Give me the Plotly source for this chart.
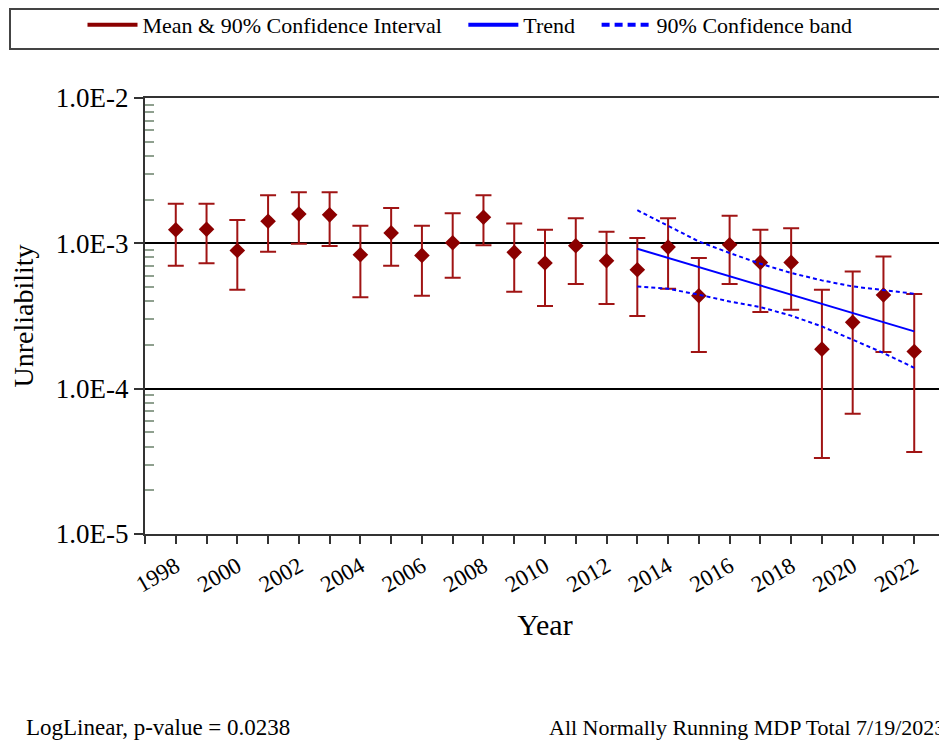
import plotly.graph_objects as go

years = list(range(1998, 2023))
mean = [1.24e-3, 1.25e-3, 8.93e-4, 1.42e-3, 1.59e-3, 1.57e-3, 8.35e-4, 1.18e-3, 8.26e-4,
        1.01e-3, 1.51e-3, 8.67e-4, 7.32e-4, 9.62e-4, 7.59e-4, 6.58e-4, 9.42e-4, 4.36e-4,
        9.78e-4, 7.39e-4, 7.39e-4, 1.87e-4, 2.86e-4, 4.41e-4, 1.80e-4]
upper = [1.87e-3, 1.87e-3, 1.45e-3, 2.14e-3, 2.25e-3, 2.25e-3, 1.32e-3, 1.75e-3, 1.32e-3,
         1.61e-3, 2.14e-3, 1.37e-3, 1.24e-3, 1.49e-3, 1.20e-3, 1.09e-3, 1.49e-3, 7.92e-4,
         1.55e-3, 1.24e-3, 1.27e-3, 4.80e-4, 6.41e-4, 8.13e-4, 4.48e-4]
lower = [7.00e-4, 7.28e-4, 4.80e-4, 8.75e-4, 9.93e-4, 9.60e-4, 4.25e-4, 7.00e-4, 4.36e-4,
         5.80e-4, 9.70e-4, 4.65e-4, 3.70e-4, 5.25e-4, 3.82e-4, 3.16e-4, 4.87e-4, 1.79e-4,
         5.25e-4, 3.37e-4, 3.49e-4, 3.33e-5, 6.72e-5, 1.79e-4, 3.66e-5]

trend_years = [2013, 2022]
trend = [9.18e-4, 2.48e-4]

band_years = list(range(2013, 2023))
band_upper = [1.69e-3, 1.32e-3, 1.03e-3, 8.58e-4, 7.24e-4, 6.25e-4, 5.56e-4, 5.05e-4, 4.74e-4, 4.50e-4]
band_lower = [5.05e-4, 4.87e-4, 4.43e-4, 3.98e-4, 3.64e-4, 3.18e-4, 2.68e-4, 2.17e-4, 1.76e-4, 1.39e-4]

y_tickvals = [1e-5, 1e-4, 1e-3, 1e-2]
y_ticktext = ["1.0E-5", "1.0E-4", "1.0E-3", "1.0E-2"]
y_minor = [k * 10.0 ** e for e in (-5, -4, -3) for k in range(2, 10)]
x_tickvals = list(range(1997, 2024))
x_ticktext = [str(y) if (y % 2 == 0 and 1998 <= y <= 2022) else "" for y in x_tickvals]

FONT = "Liberation Serif, Times New Roman, serif"
RED = "#8b0000"
ERR = "#a01414"
BLUE = "#0000ff"
NB = "\u00a0"

fig = go.Figure()

err_plus = [u - m for u, m in zip(upper, mean)]
err_minus = [m - l for m, l in zip(mean, lower)]

fig.add_trace(go.Scatter(
    x=years, y=mean, mode="markers", showlegend=False,
    marker=dict(symbol="diamond", size=12, color=RED),
    error_y=dict(type="data", symmetric=False, array=err_plus, arrayminus=err_minus,
                 color=ERR, thickness=2, width=8),
))
fig.add_trace(go.Scatter(x=trend_years, y=trend, mode="lines", showlegend=False,
                         line=dict(color=BLUE, width=2)))
fig.add_trace(go.Scatter(x=band_years, y=band_upper, mode="lines", showlegend=False,
                         line=dict(color=BLUE, width=2, dash="4px,3px")))
fig.add_trace(go.Scatter(x=band_years, y=band_lower, mode="lines", showlegend=False,
                         line=dict(color=BLUE, width=2, dash="4px,3px")))

# legend entries
fig.add_trace(go.Scatter(x=[None], y=[None], mode="lines",
                         name="Mean & 90% Confidence Interval" + NB * 3,
                         line=dict(color=RED, width=4)))
fig.add_trace(go.Scatter(x=[None], y=[None], mode="lines", name="Trend" + NB * 3,
                         line=dict(color=BLUE, width=4)))
fig.add_trace(go.Scatter(x=[None], y=[None], mode="lines", name="90% Confidence band",
                         line=dict(color=BLUE, width=4, dash="8px,5px")))

# figure is drawn 8px in from the window corner (page body margin)
L, T, PW, PH = 137.0, 90.0, 800.0, 436.0
B = T + PH

fig.update_layout(
    width=947, height=744,
    margin=dict(l=int(L), r=int(947 - L - PW), t=int(T), b=int(744 - B)),
    paper_bgcolor="white", plot_bgcolor="white",
    font=dict(family=FONT, color="black"),
    showlegend=True,
    legend=dict(orientation="h", xref="container", yref="container", x=462 / 947, y=1 - 17 / 744,
                xanchor="center", yanchor="middle", font=dict(size=22, family=FONT),
                bgcolor="rgba(0,0,0,0)", itemwidth=50, tracegroupgap=0),
    xaxis=dict(
        range=[1997, 2023], tickmode="array", tickvals=x_tickvals, ticktext=x_ticktext,
        tickangle=-30, ticks="outside", ticklen=8, tickwidth=2, tickcolor="#333333",
        tickfont=dict(size=23, family=FONT), showgrid=False, zeroline=False,
        showline=True, linecolor="#333333", linewidth=2, mirror=True, automargin=False,
        title=dict(text="Year", font=dict(size=30, family=FONT), standoff=18),
    ),
    yaxis=dict(
        type="log", range=[-5, -2], tickmode="array", tickvals=y_tickvals, ticktext=y_ticktext,
        ticks="outside", ticklen=9, tickwidth=2, tickcolor="#333333",
        tickfont=dict(size=27, family=FONT), automargin=False,
        showgrid=True, gridcolor="black", gridwidth=1.5, zeroline=False,
        showline=True, linecolor="#333333", linewidth=2, mirror=True,
        minor=dict(tickmode="array", tickvals=y_minor, ticks="inside", ticklen=9,
                   tickcolor="#8fa08f", tickwidth=1.5, showgrid=False),
        title=dict(text="Unreliability", font=dict(size=28, family=FONT), standoff=28),
    ),
    shapes=[dict(type="rect", xref="paper", yref="paper",
                 x0=(2 - L) / PW, x1=(934 - L) / PW, y0=(B - 41) / PH, y1=(B - 1) / PH,
                 line=dict(color="#444444", width=2), fillcolor="rgba(0,0,0,0)", layer="below")],
    annotations=[
        dict(text="LogLinear, p-value = 0.0238", xref="paper", yref="paper",
             x=(16 - L) / PW, y=(B - 719) / PH, xanchor="left", yanchor="middle", showarrow=False,
             font=dict(size=23, family=FONT)),
        dict(text="All Normally Running MDP Total 7/19/2023", xref="paper", yref="paper",
             x=(939 - L) / PW, y=(B - 719) / PH, xanchor="right", yanchor="middle", showarrow=False,
             font=dict(size=22, family=FONT)),
    ],
)

fig.write_html("out.html")
